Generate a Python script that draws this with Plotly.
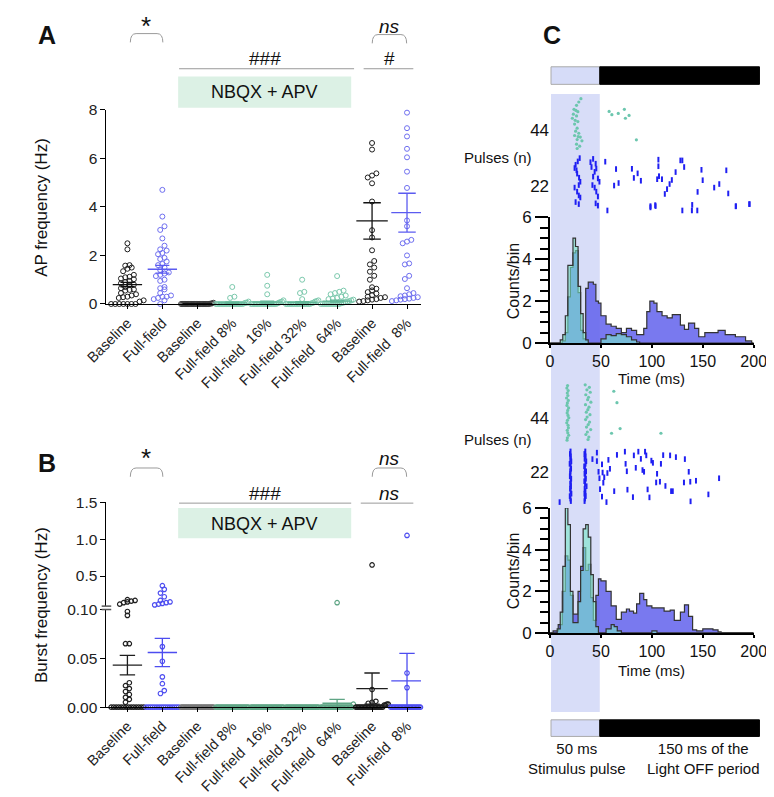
import plotly.graph_objects as go

W, H = 774, 797
FONT = "Liberation Sans, Arial, sans-serif"

# ---------------- data ----------------
cat_labels = ["Baseline", "Full-field", "Baseline", "Full-field 8%", "Full-field  16%",
              "Full-field 32%", "Full-field  64%", "Baseline", "Full-field  8%"]
cat_colors_a = ["#1e1e1e", "#6f6ff0", "#3a3a3a", "#7cc9ad", "#7cc9ad", "#7cc9ad", "#7cc9ad", "#1e1e1e", "#6f6ff0"]
cat_colors_b = ["#1e1e1e", "#4d4df0", "#777777", "#5fa585", "#5fa585", "#5fa585", "#5fa585", "#1e1e1e", "#4d4df0"]

# panel A: AP frequency (Hz)
ap_base = [2.5, 2.25, 1.6, 1.58, 1.5, 1.45, 1.35, 1.2, 1.12, 1.1, 1.05, 1.02, 0.95, 0.9, 0.85, 0.8, 0.78,
           0.7, 0.65, 0.6, 0.58, 0.55, 0.45, 0.4, 0.35, 0.3, 0.28, 0.25, 0.15, 0.1, 0, 0, 0, 0, 0, 0, 0]
ap_ff = [4.7, 3.6, 3.2, 3.05, 2.7, 2.4, 2.25, 2.2, 2.1, 2.05, 1.9, 1.85, 1.75, 1.65, 1.6, 1.5, 1.4, 1.3,
         1.25, 1.2, 1.15, 1.0, 0.95, 0.7, 0.65, 0.6, 0.45, 0.35, 0.3, 0.3, 0.25, 0.2, 0.15, 0]
ap_nb_base = [0.05, 0.03, 0.02, 0.01, 0, 0, 0, 0, 0, 0, 0, 0, 0, 0, 0, 0, 0, 0, 0, 0, 0, 0, 0, 0, 0, 0, 0, 0]
ap_nb_8 = [0.7, 0.3, 0.25, 0.1, 0.05, 0.05, 0.02, 0, 0, 0, 0, 0, 0, 0, 0, 0, 0, 0, 0, 0, 0, 0, 0, 0, 0]
ap_nb_16 = [1.2, 0.75, 0.4, 0.15, 0.1, 0.08, 0.05, 0.02, 0, 0, 0, 0, 0, 0, 0, 0, 0, 0, 0, 0, 0, 0, 0, 0, 0]
ap_nb_32 = [1.0, 0.5, 0.45, 0.2, 0.15, 0.12, 0.1, 0.05, 0.03, 0, 0, 0, 0, 0, 0, 0, 0, 0, 0, 0, 0, 0, 0, 0]
ap_nb_64 = [1.15, 0.55, 0.5, 0.45, 0.4, 0.35, 0.3, 0.25, 0.22, 0.2, 0.18, 0.15, 0.12, 0.1, 0.08, 0.05,
            0.03, 0, 0, 0, 0, 0, 0, 0, 0, 0, 0]
ap_post_base = [6.63, 6.36, 5.38, 5.29, 5.21, 4.97, 4.22, 3.04, 2.74, 2.21, 1.77, 1.63, 1.5, 1.33, 1.16, 1.0,
                0.69, 0.63, 0.56, 0.49, 0.43, 0.36, 0.3, 0.28, 0.25, 0.2, 0.18, 0.15, 0.12, 0.1]
ap_post_ff = [7.88, 7.24, 6.9, 6.39, 6.04, 5.45, 4.78, 3.44, 3.2, 2.64, 2.57, 2.5, 2.0, 1.67, 1.63, 1.16,
              1.03, 0.65, 0.45, 0.4, 0.35, 0.32, 0.3, 0.28, 0.25, 0.22, 0.2, 0.18, 0.15, 0.12]
ap_groups = [ap_base, ap_ff, ap_nb_base, ap_nb_8, ap_nb_16, ap_nb_32, ap_nb_64, ap_post_base, ap_post_ff]
ap_mean = [0.8, 1.43, 0.01, 0.05, 0.08, 0.07, 0.12, 3.42, 3.76]
ap_sem = [0.09, 0.16, 0.005, 0.03, 0.04, 0.03, 0.04, 0.75, 0.8]

# panel B: burst frequency (Hz)
bu_base = [0, 0, 0, 0, 0, 0, 0, 0, 0, 0, 0, 0, 0, 0, 0.005, 0.008, 0.01, 0.013, 0.016, 0.019, 0.022,
           0.025, 0.065, 0.065, 0.094, 0.098, 0.12, 0.14, 0.15, 0.16, 0.17, 0.18]
bu_ff = [0, 0, 0, 0, 0, 0, 0, 0, 0, 0, 0, 0, 0, 0, 0, 0, 0.014, 0.017, 0.024, 0.031, 0.047, 0.062,
         0.11, 0.12, 0.13, 0.14, 0.15, 0.17, 0.22, 0.27, 0.32, 0.37]
bu_nb_base = [0, 0, 0, 0, 0, 0, 0, 0, 0, 0, 0, 0, 0, 0, 0, 0, 0, 0, 0, 0, 0, 0, 0, 0, 0, 0]
bu_nb_8 = [0, 0, 0, 0, 0, 0, 0, 0, 0, 0, 0, 0, 0, 0, 0, 0, 0, 0, 0, 0, 0, 0, 0, 0, 0, 0]
bu_nb_16 = [0, 0, 0, 0, 0, 0, 0, 0, 0, 0, 0, 0, 0, 0, 0, 0, 0, 0, 0, 0, 0, 0, 0, 0, 0, 0]
bu_nb_32 = [0, 0, 0, 0, 0, 0, 0, 0, 0, 0, 0, 0, 0, 0, 0, 0, 0, 0, 0, 0, 0, 0, 0, 0, 0, 0]
bu_nb_64 = [0, 0, 0, 0, 0, 0, 0, 0, 0, 0, 0, 0, 0, 0, 0, 0, 0, 0, 0, 0, 0, 0, 0, 0, 0.003, 0.14]
bu_post_base = [0, 0, 0, 0, 0, 0, 0, 0, 0, 0, 0, 0, 0, 0, 0, 0, 0, 0, 0, 0, 0.002, 0.002, 0.003, 0.003,
                0.004, 0.005, 0.006, 0.018, 0.65]
bu_post_ff = [0, 0, 0, 0, 0, 0, 0, 0, 0, 0, 0, 0, 0, 0, 0, 0, 0, 0, 0, 0, 0, 0, 0, 0, 0.02, 0.035, 1.05]
bu_groups = [bu_base, bu_ff, bu_nb_base, bu_nb_8, bu_nb_16, bu_nb_32, bu_nb_64, bu_post_base, bu_post_ff]
bu_mean = [0.043, 0.056, 0.0, 0.0, 0.0, 0.0, 0.004, 0.019, 0.027]
bu_sem = [0.01, 0.0145, 0.0, 0.0, 0.0, 0.0, 0.004, 0.016, 0.028]

# panel C, cell 1: raster (time ms, trial n)
r1_green_t = [30.3, 28.2, 26.0, 23.5, 27.3, 22.9, 26.0, 21.9, 27.3, 24.1, 26.6, 25.1, 28.2, 24.1, 29.7, 26.6,
              31.3, 26.0, 29.1, 26.6, 25.4, 27.6, 24.7, 58.0, 60.7, 67.0, 73.0, 74.0, 77.6, 84.8]
r1_green_n = [56.2, 54.9, 53.6, 52.0, 51.1, 50.1, 49.4, 48.5, 47.2, 46.2, 44.6, 43.4, 42.6, 41.7, 41.1, 40.1,
              39.6, 38.3, 37.5, 36.6, 51.6, 41.3, 47.7, 51.2, 49.9, 50.4, 52.0, 48.5, 49.6, 40.0]
r1_blue_t = [29.1, 27.2, 25.1, 24.1, 26.0, 26.6, 28.5, 29.7, 28.2, 24.1, 26.6, 28.2, 29.7, 25.1, 28.2,
             42.3, 39.7, 44.8, 40.7, 45.4, 43.8, 42.3, 47.0, 41.6, 43.8, 45.4, 47.0, 48.5, 44.8,
             54.2, 64.8, 62.9, 67.3, 80.4, 82.3, 86.0, 89.2, 98.6, 103.6, 106.4, 106.4, 105.2, 109.9, 107.0,
             112.7, 114.9, 117.4, 119.6, 123.3, 128.0, 129.9, 131.7, 139.6, 144.9, 148.7, 149.9, 161.2, 166.2,
             173.1, 175.0, 182.5, 196.0, 47.0, 56.3, 98.6, 103.3, 129.9, 139.3, 144.6, 182.4, 195.6]
r1_blue_n = [32.8, 31.5, 30.2, 28.9, 28.0, 26.7, 25.1, 23.5, 22.2, 21.2, 19.6, 18.1, 17.3, 15.5, 14.7,
             32.5, 31.2, 30.6, 29.3, 28.7, 27.4, 25.5, 24.8, 22.2, 21.2, 19.6, 17.7, 23.5, 15.0,
             31.4, 28.5, 22.0, 23.0, 28.6, 25.0, 26.8, 23.9, 13.9, 13.9, 32.2, 29.6, 24.5, 24.5, 25.7,
             18.7, 20.6, 22.6, 24.2, 27.3, 31.9, 31.9, 29.3, 14.4, 19.5, 28.2, 24.1, 21.2, 22.6,
             28.0, 18.9, 13.9, 14.7, 14.1, 12.2, 13.4, 14.3, 12.2, 12.2, 12.2, 13.8, 14.7]
# cell 1: PSTH step histograms (bin edges ms, counts/bin)
h1_green_edges = [0, 10, 12.5, 15, 17.5, 20, 22.5, 25, 27.5, 30, 32.5, 35, 37.5, 50, 55, 60, 65, 70, 75, 80,
                  85, 88, 200]
h1_green_vals = [0, 0.15, 0.4, 1.3, 3.7, 3.7, 5.0, 4.6, 2.7, 1.4, 0.5, 0.15, 0, 0.2, 0.4, 0.35, 0.45, 0.4,
                 0.3, 0.15, 0.05, 0]
h1_blue_edges = [0, 12, 15, 17.5, 20, 22.5, 25, 27.5, 30, 32.5, 35, 37.5, 42.5, 45, 47.5, 50, 55, 60, 65,
                 70, 75, 80, 85, 92, 95, 98, 102, 105, 110, 115, 120, 128, 132, 136, 142, 146, 152, 165,
                 172, 182, 192, 198, 200]
h1_blue_vals = [0, 0.1, 0.5, 2.2, 3.6, 4.3, 4.4, 2.4, 0.6, 0.2, 2.6, 2.9, 2.8, 2.0, 1.9, 1.3, 0.9, 0.8, 0.7,
                0.5, 0.7, 0.6, 0.4, 0.7, 1.5, 2.0, 1.9, 1.5, 1.3, 1.2, 1.35, 0.85, 0.65, 0.95, 0.7, 0.3,
                0.5, 0.6, 0.4, 0.3, 0.1, 0]

# panel C, cell 2: raster
r2_green_t = [17.2, 16.5, 17.8, 16.9, 17.5, 16.2, 17.9, 17.0, 16.6, 18.2, 17.3, 16.8, 17.6, 18.4, 17.1,
              16.4, 17.7, 18.0, 16.9, 17.4, 18.3, 17.0, 16.7,
              34.5, 38.6, 36.2, 39.5, 35.1, 37.8, 36.9, 40.1, 34.8, 38.2, 37.1, 35.6, 39.2, 36.4, 34.9,
              38.8, 37.5, 35.8, 39.9, 36.6, 35.2, 38.1, 37.3,
              62.6, 65.7, 68.8, 60.4, 108.9]
r2_green_n = [57, 56, 55, 54, 53, 52, 51, 50, 49, 48, 47, 46, 45, 44, 43, 42, 41, 40, 39, 38, 37, 36, 35,
              57.3, 56.3, 55.3, 54.3, 53.3, 52.3, 51.3, 50.3, 49.3, 48.3, 47.3, 46.3, 45.3, 44.3, 43.3,
              42.3, 41.3, 40.3, 39.3, 38.3, 37.3, 36.3, 35.3,
              54.7, 50.1, 39.7, 37.8, 37.8]
r2_blue_t = [20.1, 19.6, 20.4, 19.9, 20.8, 19.3, 20.2, 20.6, 19.8, 20.0, 19.5, 20.7, 20.3, 19.9, 20.5,
             19.7, 20.2, 20.9, 19.4, 20.0, 20.4,
             34.6, 33.8, 34.9, 34.0, 35.5, 34.8, 33.6, 34.2, 35.3, 33.9, 34.6, 35.1, 33.7, 34.4, 35.8,
             34.0, 34.7, 33.8, 35.0, 34.2, 33.9,
             9.4, 41.6, 46.0, 46.0, 51.0, 51.6, 53.2, 47.6, 48.5, 49.1, 52.3, 51.0, 55.4, 57.3, 56.3, 58.8,
             63.0, 65.7, 73.5, 74.2, 75.4, 76.0, 81.4, 82.3, 84.2, 86.7, 89.2, 90.8, 92.3, 93.3, 94.5,
             95.8, 97.6, 99.5, 101.0, 104.2, 105.1, 107.9, 108.9, 111.1, 113.3, 117.9, 118.9, 120.5,
             123.6, 131.5, 132.4, 136.2, 137.7, 138.0, 143.3, 155.5, 166.0]
r2_blue_n = [30.5, 29.5, 28.5, 27.5, 26.5, 25.5, 24.5, 23.5, 22.5, 21.5, 20.5, 19.5, 18.5, 17.5, 16.5,
             15.5, 14.5, 13.5, 12.5, 11.5, 10.5,
             30.5, 29.5, 28.5, 27.5, 26.5, 25.5, 24.5, 23.5, 22.5, 21.5, 20.5, 19.5, 18.5, 17.5, 16.5,
             15.5, 14.5, 13.5, 12.5, 11.5, 10.5,
             10.1, 27.4, 30.0, 26.6, 25.3, 22.0, 20.1, 22.3, 19.7, 15.3, 17.9, 12.3, 10.1, 27.1, 21.8, 23.5,
             14.5, 29.1, 30.4, 25.5, 22.5, 15.1, 12.1, 28.9, 23.9, 30.4, 27.5, 23.0, 22.3, 30.4, 28.9,
             15.2, 12.0, 26.8, 25.9, 18.0, 21.5, 18.3, 25.5, 29.0, 16.6, 28.9, 14.5, 14.5,
             28.2, 18.0, 27.4, 22.3, 18.3, 10.4, 18.7, 13.2, 19.7]
h2_green_edges = [0, 7, 10, 12.5, 15, 17.5, 20, 22.5, 27.5, 30, 32.5, 35, 37.5, 40, 42.5, 45, 47.5, 55, 60,
                  63, 66, 70, 100, 105, 200]
h2_green_vals = [0, 0.2, 1.0, 3.2, 6.0, 5.2, 2.0, 0.5, 1.5, 3.0, 5.0, 5.2, 4.6, 2.8, 1.5, 0.3, 0, 0.2, 0.4,
                 0.3, 0.1, 0, 0.1, 0]
h2_blue_edges = [0, 3, 8, 12, 15, 17.5, 20, 22.5, 27.5, 30, 32.5, 35, 37.5, 40, 42.5, 45, 47.5, 50, 55, 60,
                 65, 70, 75, 78, 82, 85, 88, 92, 95, 100, 105, 112, 118, 122, 128, 132, 136, 140, 144,
                 150, 155, 160, 165, 168, 200]
h2_blue_vals = [0, 0.1, 0.4, 2.0, 3.7, 3.5, 1.8, 0.9, 2.0, 3.2, 4.1, 3.0, 3.3, 1.7, 0.6, 1.8, 2.6, 2.5,
                2.0, 1.3, 0.65, 1.0, 1.15, 1.05, 0.95, 1.4, 1.9, 1.6, 1.3, 1.2, 1.2, 1.05, 1.1, 0.6, 1.0,
                1.35, 0.8, 0.15, 0.1, 0.2, 0.2, 0.15, 0.05, 0]


# ---------------- helpers ----------------
def px(x):
    return x / W


def py(y):
    return 1 - y / H


def swarm(vals, center, px_per_unit, px_per_cat=36.55, d=4.5, half=17):
    idx = sorted(range(len(vals)), key=lambda i: vals[i])
    rows = []
    for i in idx:
        ypx = vals[i] * px_per_unit
        if rows and ypx - rows[-1][0] < d:
            rows[-1][1].append(i)
        else:
            rows.append([ypx, [i]])
    xs = [0.0] * len(vals)
    for _, members in rows:
        n = len(members)
        step = d if n < 2 else min(d, 2 * half / (n - 1))
        for k, i in enumerate(members):
            xs[i] = center + (k - (n - 1) / 2) * step / px_per_cat
    return xs


def mean_sem_xy(c, m, s, w=0.42, cw=0.2):
    xs = [c - w, c + w, None]
    ys = [m, m, None]
    if s > 0:
        xs += [c, c, None, c - cw, c + cw, None, c - cw, c + cw]
        ys += [m - s, m + s, None, m + s, m + s, None, m - s, m - s]
    return xs, ys


fig = go.Figure()

# ---------------- panel A ----------------
for i, vals in enumerate(ap_groups):
    fig.add_trace(go.Scatter(x=swarm(vals, i, 24.9), y=vals, mode="markers", xaxis="x", yaxis="y",
                             marker=dict(symbol="circle-open", size=5, color=cat_colors_a[i], line=dict(width=1)),
                             cliponaxis=False, hoverinfo="skip"))
    w = 0.45 if i >= 7 else 0.42
    cw = 0.25 if i >= 7 else 0.2
    mx, my = mean_sem_xy(i, ap_mean[i], ap_sem[i], w, cw)
    lc = "#111111" if cat_colors_a[i] in ("#1e1e1e", "#3a3a3a") else ("#5b5bf0" if i in (1, 8) else "#5fb595")
    fig.add_trace(go.Scatter(x=mx, y=my, mode="lines", xaxis="x", yaxis="y", line=dict(color=lc, width=1.3),
                             cliponaxis=False, hoverinfo="skip"))

# ---------------- panel B ----------------
for i, vals in enumerate(bu_groups):
    lo = [v for v in vals if v <= 0.1]
    hi = [v for v in vals if v > 0.1]
    mk = dict(symbol="circle-open", size=4.5, color=cat_colors_b[i], line=dict(width=1.2))
    fig.add_trace(go.Scatter(x=swarm(lo, i, 1000, d=4, half=17), y=lo, mode="markers", xaxis="x2", yaxis="y2",
                             marker=mk, cliponaxis=False, hoverinfo="skip"))
    if hi:
        fig.add_trace(go.Scatter(x=swarm(hi, i, 75.7, d=4, half=10), y=hi, mode="markers", xaxis="x2",
                                 yaxis="y3", marker=mk, cliponaxis=False, hoverinfo="skip"))
    mx, my = mean_sem_xy(i, bu_mean[i], bu_sem[i], 0.45 if i >= 7 else 0.42, 0.22)
    fig.add_trace(go.Scatter(x=mx, y=my, mode="lines", xaxis="x2", yaxis="y2",
                             line=dict(color=cat_colors_b[i], width=1.3), cliponaxis=False, hoverinfo="skip"))


# ---------------- panel C ----------------
def raster_dots(t, n, color, xa, ya):
    fig.add_trace(go.Scatter(x=t, y=n, mode="markers", xaxis=xa, yaxis=ya,
                             marker=dict(symbol="circle", size=3.2, color=color, line=dict(width=0)),
                             cliponaxis=False, hoverinfo="skip"))


def raster_ticks(t, n, color, xa, ya):
    fig.add_trace(go.Scatter(x=t, y=n, mode="markers", xaxis=xa, yaxis=ya,
                             marker=dict(symbol="line-ns", size=4, color=color, line=dict(width=2, color=color)),
                             cliponaxis=False, hoverinfo="skip"))


def steps(edges, vals, fill, xa, ya):
    fig.add_trace(go.Scatter(x=edges, y=vals + [vals[-1]], mode="lines", line_shape="hv", fill="tozeroy",
                             fillcolor=fill, line=dict(color="#333333", width=1.2), xaxis=xa, yaxis=ya,
                             hoverinfo="skip"))


raster_dots(r1_green_t, r1_green_n, "#6cc6ae", "x3", "y4")
raster_ticks(r1_blue_t, r1_blue_n, "#1f1ff2", "x3", "y4")
steps(h1_blue_edges, h1_blue_vals, "rgba(98,98,236,0.85)", "x4", "y5")
steps(h1_green_edges, h1_green_vals, "rgba(120,232,200,0.6)", "x4", "y5")
raster_dots(r2_green_t, r2_green_n, "#6cc6ae", "x5", "y6")
raster_ticks(r2_blue_t, r2_blue_n, "#1f1ff2", "x5", "y6")
steps(h2_blue_edges, h2_blue_vals, "rgba(98,98,236,0.85)", "x6", "y7")
steps(h2_green_edges, h2_green_vals, "rgba(120,232,200,0.6)", "x6", "y7")

# ---------------- axes ----------------
tickfont = dict(family=FONT, size=14.5, color="#222222")
cat_x = dict(range=[-0.6, 8.4], domain=[px(81), px(410)], tickvals=list(range(9)), ticktext=cat_labels,
             tickangle=-45, tickfont=tickfont, showline=True, linecolor="black", linewidth=1,
             ticks="outside", ticklen=4, tickcolor="black", showgrid=False, zeroline=False)
ax_y = dict(showline=True, linecolor="black", linewidth=1, ticks="outside", ticklen=5, tickcolor="black",
            showgrid=False, zeroline=False, tickfont=dict(family=FONT, size=15.5, color="#222222"))

c_x = dict(domain=[px(545), px(758)], range=[0, 200], showgrid=False, zeroline=False)
c_hist_x = dict(c_x, tickvals=[0, 50, 100, 150, 200], ticks="outside", ticklen=3, tickwidth=2,
                tickcolor="black", showline=True, linecolor="black", linewidth=2,
                tickfont=dict(family=FONT, size=16, color="#111111"))
c_hist_y = dict(range=[0, 6], tickvals=[0, 2, 4, 6], ticks="outside", ticklen=13, tickwidth=2,
                tickcolor="black", showline=True, linecolor="black", linewidth=2, showgrid=False,
                zeroline=False, tickfont=dict(family=FONT, size=17, color="#111111"),
                minor=dict(dtick=0.5, ticks="outside", ticklen=8, tickwidth=2, tickcolor="black"))
c_rast_y = dict(showline=False, ticks="", showgrid=False, zeroline=False, tickvals=[22, 44],
                tickfont=dict(family=FONT, size=17, color="#111111"))

fig.update_layout(
    width=W, height=H, margin=dict(l=0, r=0, t=0, b=0), showlegend=False,
    paper_bgcolor="white", plot_bgcolor="rgba(0,0,0,0)", font=dict(family=FONT),
    xaxis=dict(cat_x, anchor="y"),
    yaxis=dict(ax_y, domain=[py(294), py(95)], range=[0, 8], tickvals=[0, 2, 4, 6, 8], anchor="x"),
    xaxis2=dict(cat_x, anchor="y2"),
    yaxis2=dict(ax_y, domain=[py(707), py(607)], range=[0, 0.1], tickvals=[0, 0.05, 0.1],
                ticktext=["0.00", "0.05", "0.10"], anchor="x2"),
    yaxis3=dict(ax_y, domain=[py(603), py(497)], range=[0.1, 1.5], tickvals=[0.5, 1.0, 1.5],
                ticktext=["0.5", "1.0", "1.5"], anchor="x2"),
    xaxis3=dict(c_x, visible=False, anchor="y4"),
    yaxis4=dict(c_rast_y, domain=[py(200), py(79)], range=[11.5, 58], anchor="x3"),
    xaxis4=dict(c_hist_x, anchor="y5"),
    yaxis5=dict(c_hist_y, domain=[py(334), py(205)], anchor="x4"),
    xaxis5=dict(c_x, visible=False, anchor="y6"),
    yaxis6=dict(c_rast_y, domain=[py(500), py(374)], range=[8.9, 58.4], anchor="x5"),
    xaxis6=dict(c_hist_x, anchor="y7"),
    yaxis7=dict(c_hist_y, domain=[py(631), py(503)], anchor="x6"),
)

# ---------------- shapes ----------------
shapes = []


def rect(x0, y0, x1, y1, fill, line=None, layer="above"):
    shapes.append(dict(type="rect", xref="paper", yref="paper", x0=px(x0), x1=px(x1), y0=py(y1), y1=py(y0),
                       fillcolor=fill, line=dict(width=1 if line else 0, color=line or fill), layer=layer))


def hline(x0, x1, y, color="#9a9a9a", width=1):
    shapes.append(dict(type="line", xref="paper", yref="paper", x0=px(x0), x1=px(x1), y0=py(y), y1=py(y),
                       line=dict(color=color, width=width)))


def bracket(x0, x1, ytop, ybot):
    r = 6
    path = (f"M {px(x0)},{py(ybot)} Q {px(x0)},{py(ytop)} {px(x0 + r)},{py(ytop)} "
            f"L {px(x1 - r)},{py(ytop)} Q {px(x1)},{py(ytop)} {px(x1)},{py(ybot)}")
    shapes.append(dict(type="path", xref="paper", yref="paper", path=path,
                       line=dict(color="#9a9a9a", width=1)))


# panel A decorations
bracket(106, 140, 17, 26)
bracket(359, 395, 18, 27)
hline(157, 340, 53)
hline(350, 402, 53)
rect(156, 61, 337, 93, "#dcf1e5")
# panel B decorations
bracket(106, 140, 462, 471)
bracket(359, 395, 462, 471)
hline(157, 337, 498)
hline(347, 402, 498)
rect(156, 503, 337, 534, "#dcf1e5")
# broken axis mark
hline(76, 86, 603.5, "#555555", 1.5)
hline(76, 86, 607, "#555555", 1.5)
# panel C: stimulus band and bars
rect(546, 79, 597, 712, "#d8ddf8", layer="below")
rect(546, 51, 597, 69, "#d6dcf8", "#aaaaaa")
rect(597, 51, 764, 69, "black", "black")
rect(546, 720, 597, 737, "#d6dcf8", "#aaaaaa")
rect(597, 720, 764, 737, "black", "black")
fig.update_layout(shapes=shapes)

# ---------------- annotations ----------------
ann = []


def text(x, y, s, size=15, angle=0, bold=False, italic=False, color="#111111"):
    if bold:
        s = f"<b>{s}</b>"
    if italic:
        s = f"<i>{s}</i>"
    ann.append(dict(x=px(x), y=py(y), xref="paper", yref="paper", text=s, showarrow=False, textangle=angle,
                    font=dict(family=FONT, size=size, color=color), xanchor="center", yanchor="middle"))


text(19, 18, "A", 25, bold=True)
text(19, 457, "B", 25, bold=True)
text(547, 18, "C", 25, bold=True)
text(122, 9, "*", 26)
text(377, 10, "ns", 19, italic=True)
text(247, 43, "###", 19)
text(377, 43, "#", 19)
text(246, 77, "NBQX + APV", 18)
text(122, 452, "*", 26)
text(377, 452, "ns", 19, italic=True)
text(247, 488, "###", 19)
text(377, 488, "ns", 19, italic=True)
text(246, 519, "NBQX + APV", 18)
text(13, 195, "AP frequency (Hz)", 17, angle=-90)
text(13, 602, "Burst frequency (Hz)", 17, angle=-90)
text(491, 144, "Pulses (n)", 15)
text(491, 433, "Pulses (n)", 15)
text(507, 270, "Counts/bin", 16, angle=-90)
text(507, 567, "Counts/bin", 16, angle=-90)
text(651, 370, "Time (ms)", 15)
text(651, 669, "Time (ms)", 15)
text(573, 760, "50 ms<br>Stimulus pulse", 15)
text(706, 760, "150 ms of the<br>Light OFF period", 15)
fig.update_layout(annotations=ann)

fig.write_html("out.html")
